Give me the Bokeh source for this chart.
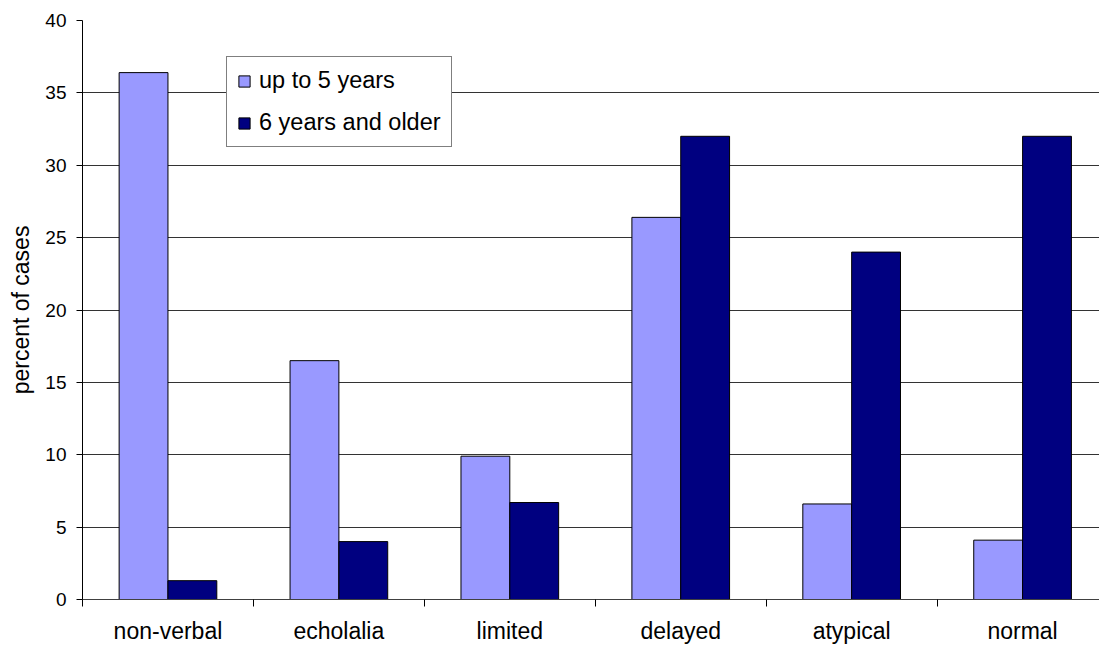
from bokeh.plotting import figure
from bokeh.models import Range1d, FixedTicker, Legend, LegendItem
from bokeh.embed import file_html
from bokeh.resources import INLINE

# Share of cases per language category, by age group
categories = ["non-verbal", "echolalia", "limited", "delayed", "atypical", "normal"]
up_to_5_years = [36.4, 16.5, 9.9, 26.4, 6.6, 4.1]
six_and_older = [1.3, 4.0, 6.7, 32.0, 24.0, 32.0]
series_names = ["up to 5 years", "6 years and older"]
y_ticks = [0, 5, 10, 15, 20, 25, 30, 35, 40]

FONT = "Liberation Sans"
LIGHT = "#9999FF"
DARK = "#000080"

centers = [i + 0.5 for i in range(len(categories))]
boundaries = list(range(len(categories) + 1))
bar_w = 1 / 3.5  # two bars per group, gap width 150 %

p = figure(
    width=1099, height=646,
    x_range=Range1d(0, 5.95), y_range=Range1d(0, 40),
    output_backend="svg", toolbar_location=None,
    min_border_left=82, min_border_right=0,
    min_border_top=20, min_border_bottom=47,
)
p.outline_line_color = None
p.background_fill_color = "white"
p.border_fill_color = "white"

r1 = p.vbar(x=[c - bar_w / 2 for c in centers], top=up_to_5_years, bottom=0,
            width=bar_w, fill_color=LIGHT, line_color="black", line_width=1)
r2 = p.vbar(x=[c + bar_w / 2 for c in centers], top=six_and_older, bottom=0,
            width=bar_w, fill_color=DARK, line_color="black", line_width=1)

# value axis
p.yaxis.ticker = FixedTicker(ticks=y_ticks)
p.yaxis.major_tick_out = 6
p.yaxis.major_tick_in = 0
p.yaxis.minor_tick_out = 0
p.yaxis.minor_tick_in = 0
p.yaxis.axis_line_color = "black"
p.yaxis.major_tick_line_color = "black"
p.yaxis.major_label_text_font = FONT
p.yaxis.major_label_text_font_size = "19px"
p.yaxis.major_label_text_color = "black"
p.yaxis.major_label_standoff = 10
p.yaxis.axis_label = "percent of cases"
p.yaxis.axis_label_text_font = FONT
p.yaxis.axis_label_text_font_size = "23px"
p.yaxis.axis_label_text_font_style = "normal"
p.yaxis.axis_label_text_color = "black"
p.yaxis.axis_label_standoff = 8

p.ygrid.grid_line_color = "#333333"
p.ygrid.grid_line_width = 1
p.xgrid.visible = False

# category axis: names at group centres, ticks at group boundaries
p.xaxis.ticker = FixedTicker(ticks=centers, minor_ticks=boundaries)
p.xaxis.major_label_overrides = {c: name for c, name in zip(centers, categories)}
p.xaxis.major_tick_out = 0
p.xaxis.major_tick_in = 0
p.xaxis.minor_tick_out = 7
p.xaxis.minor_tick_in = 0
p.xaxis.minor_tick_line_color = "black"
p.xaxis.axis_line_color = "#404040"
p.xaxis.major_label_text_font = FONT
p.xaxis.major_label_text_font_size = "23px"
p.xaxis.major_label_text_color = "black"
p.xaxis.major_label_standoff = 11

legend = Legend(
    items=[LegendItem(label=series_names[0], renderers=[r1]),
           LegendItem(label=series_names[1], renderers=[r2])],
    location=(144, 452),
    margin=0, padding=10, spacing=15,
    glyph_width=14, glyph_height=14, label_standoff=8,
    label_text_font=FONT, label_text_font_size="23.5px", label_text_color="black",
    border_line_color="black", border_line_width=1,
    background_fill_color="white", background_fill_alpha=1.0,
)
p.add_layout(legend)

open("out.html", "w").write(file_html(p, INLINE))
